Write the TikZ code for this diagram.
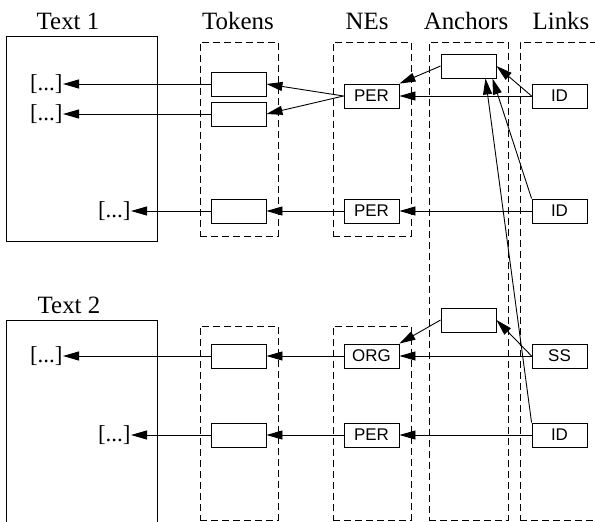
\documentclass[tikz,border=0pt]{standalone}
\usepackage{fontspec}
\setmainfont{Liberation Serif}
\setsansfont{Liberation Sans}
\usetikzlibrary{arrows.meta, positioning, calc}

\begin{document}
\begin{tikzpicture}[
        x=1bp, y=-1bp,
        line width=0.9bp,
        >={Triangle[length=16bp,width=9bp]},
        item/.style={
            rectangle,
            draw,
            minimum width=55bp,
            minimum height=24bp,
            inner sep=0pt,
            font=\sffamily\fontsize{17}{17}\selectfont
        },
        group/.style={
            rectangle,
            draw,
            dash pattern=on 7bp off 4bp,
            minimum width=78bp,
            inner sep=0pt
        },
        textbox/.style={
            rectangle,
            draw,
            minimum width=151bp,
            inner sep=0pt
        },
        header/.style={anchor=base, font=\fontsize{25}{25}\selectfont},
        dots/.style={anchor=east, inner sep=0pt, font=\fontsize{23}{23}\selectfont}
    ]
    \useasboundingbox (0,0) rectangle (595,522);

    % Headers
    \node[header] (text1lbl) at (68,30) {Text 1};
    \node[header] (tokenslbl) at (238,30) {Tokens};
    \node[header] (neslbl) at (367,30) {NEs};
    \node[header] (anchorslbl) at (466,30) {Anchors};
    \node[header] (linkslbl) at (561,30) {Links};
    \node[header] (text2lbl) at (69,313) {Text 2};

    % Containers
    \node[textbox, minimum height=205bp] (text1) at (81.5,138.5) {};
    \node[textbox, minimum height=212bp] (text2) at (81.5,426) {};
    \node[group, minimum height=194bp] (tokens1) at (239,139) {};
    \node[group, minimum height=194bp] (nes1) at (372,139) {};
    \node[group, minimum height=194bp] (tokens2) at (239,423) {};
    \node[group, minimum height=194bp] (nes2) at (372,423) {};
    \node[group, minimum width=79bp, minimum height=478bp] (anchors) at (468.5,281) {};
    \node[group, minimum width=80bp, minimum height=478bp] (links) at (560,281) {};

    % Text spans
    \node[dots] (span1) at (63,84) {[...]};
    \node[dots] (span2) at (63,114) {[...]};
    \node[dots] (span3) at (131,211) {[...]};
    \node[dots] (span4) at (63,356) {[...]};
    \node[dots] (span5) at (131,435) {[...]};

    % Tokens
    \node[item] (tok1) at (238.5,84) {};
    \node[item] (tok2) at (238.5,114) {};
    \node[item] (tok3) at (238.5,211) {};
    \node[item] (tok4) at (238.5,356) {};
    \node[item] (tok5) at (238.5,435) {};

    % Named entities
    \node[item] (per1) at (371.5,96) {PER};
    \node[item] (per2) at (371.5,211) {PER};
    \node[item] (org1) at (371.5,356) {ORG};
    \node[item] (per3) at (371.5,435) {PER};

    % Anchors
    \node[item] (anc1) at (468.5,66) {};
    \node[item] (anc2) at (468.5,320) {};

    % Links
    \node[item] (id1) at (559.5,96) {ID};
    \node[item] (id2) at (559.5,211) {ID};
    \node[item] (ss1) at (559.5,356) {SS};
    \node[item] (id3) at (559.5,435) {ID};

    % Text 1
    \draw[->] (tok1.west) -- (span1.east);
    \draw[->] (tok2.west) -- (span2.east);
    \draw[->] (tok3.west) -- (span3.east);
    \draw[->] (per1.west) -- (tok1.east);
    \draw[->] (per1.west) -- (tok2.east);
    \draw[->] (per2.west) -- (tok3.east);
    \draw[->] (anc1.west) -- (per1.north east);
    \draw[->] (id1.west) -- (per1.east);
    \draw[->] (id1.west) -- (anc1.east);
    \draw[->] (id2.west) -- (per2.east);
    \draw[->] (id2.north west) -- ([xshift=-4bp]anc1.south east);

    % Text 2
    \draw[->] (tok4.west) -- (span4.east);
    \draw[->] (tok5.west) -- (span5.east);
    \draw[->] (org1.west) -- (tok4.east);
    \draw[->] (per3.west) -- (tok5.east);
    \draw[->] (anc2.west) -- (org1.north east);
    \draw[->] (ss1.west) -- (org1.east);
    \draw[->] (ss1.west) -- (anc2.east);
    \draw[->] (id3.west) -- (per3.east);
    \draw[->] (id3.north west) -- ([xshift=-11bp]anc1.south east);

\end{tikzpicture}
\end{document}
